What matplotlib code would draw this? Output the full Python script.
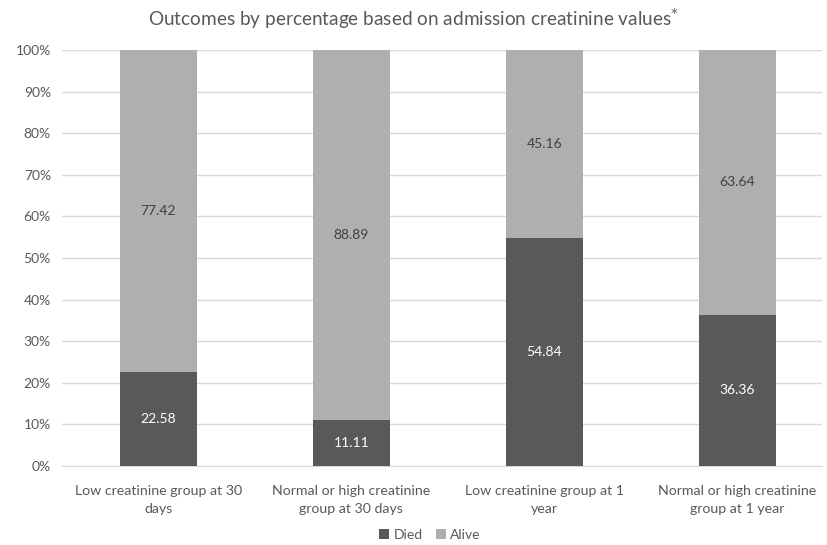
import matplotlib
matplotlib.use("Agg")
import matplotlib.pyplot as plt
from matplotlib.ticker import PercentFormatter

plt.rcParams['font.family'] = ['Lato', 'DejaVu Sans']

categories = ["Low creatinine group at 30\ndays",
              "Normal or high creatinine\ngroup at 30 days",
              "Low creatinine group at 1\nyear",
              "Normal or high creatinine\ngroup at 1 year"]
died = [22.58, 11.11, 54.84, 36.36]
alive = [77.42, 88.89, 45.16, 63.64]

c_died = "#595959"
c_alive = "#afafaf"
txt = "#595959"

fig = plt.figure(figsize=(8.27, 5.45), dpi=100)
ax = fig.add_axes([62/827, 1-466/545, (822-62)/827, (466-50)/545])

x = list(range(len(categories)))
b1 = ax.bar(x, died, width=0.4, color=c_died, label="Died", zorder=3)
b2 = ax.bar(x, alive, width=0.4, bottom=died, color=c_alive, label="Alive", zorder=3)

for i in x:
    ax.text(i, died[i]/2, f"{died[i]:.2f}", ha='center', va='center', color='white', fontsize=10, zorder=4)
    ax.text(i, died[i] + alive[i]/2, f"{alive[i]:.2f}", ha='center', va='center', color='#404040', fontsize=10, zorder=4)

ax.set_ylim(0, 100)
ax.set_xlim(-0.5, 3.44)
ax.set_yticks(range(0, 101, 10))
ax.yaxis.set_major_formatter(PercentFormatter(decimals=0))
ax.grid(axis='y', color='#d9d9d9', linewidth=1, zorder=0)
for s in ['top', 'right', 'left']:
    ax.spines[s].set_visible(False)
ax.spines['bottom'].set_color('#d9d9d9')
ax.tick_params(axis='both', length=0, colors=txt, labelsize=10)
ax.tick_params(axis='y', pad=8)
ax.tick_params(axis='x', pad=14)
ax.set_xticks(x)
ax.set_xticklabels(categories, color=txt, fontsize=10.2, linespacing=1.55)

fig.text(0.5, 1-19/545, "Outcomes by percentage based on admission creatinine values$^{*}$",
         ha='center', va='center', fontsize=13.7, color=txt)

fig.legend(handles=[b1, b2], labels=["Died", "Alive"], loc='center', bbox_to_anchor=(0.52, 1-535/545),
           ncol=2, frameon=False, fontsize=10, labelcolor=txt, handlelength=0.7, handleheight=0.7,
           columnspacing=1.0, handletextpad=0.3)

fig.savefig("out.png", dpi=100)
